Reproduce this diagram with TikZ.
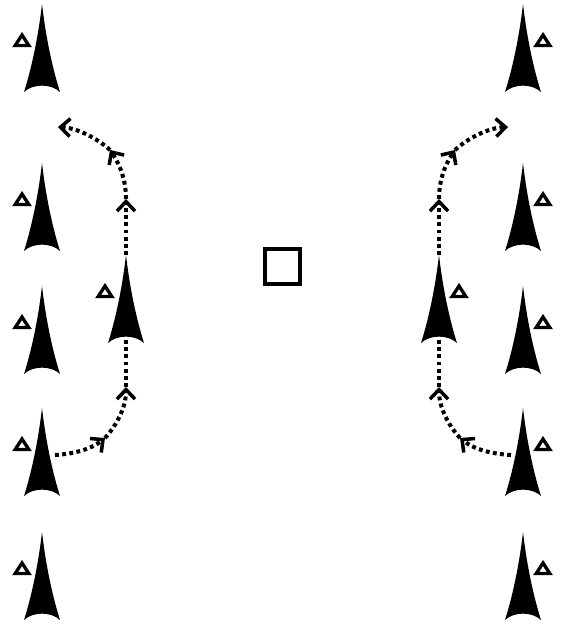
\documentclass[tikz,border=0pt]{standalone}
\usepackage{xcolor}
\usetikzlibrary{arrows.meta,positioning}

\begin{document}
\begin{tikzpicture}[x=0.02cm, y=-0.02cm,
    player/.pic={
      \fill (0,0) .. controls (4,35) and (11,66) .. (18,88)
        .. controls (9,79.5) and (-9,79.5) .. (-18,88)
        .. controls (-11,66) and (-4,35) .. cycle;
      \coordinate (-base) at (0,84);
      \coordinate (-apex) at (0,0);
    },
    tri/.pic={\draw[line width=1.9pt, miter limit=10] (-6.8,5.5) -- (6.8,5.5) -- (0,-5) -- cycle;},
    route/.style={line width=2.3pt, dash pattern=on 2.2pt off 1.9pt},
    chev/.style={-{Straight Barb[length=1.9mm, width=3.6mm, line width=2pt]}},
    cone/.style={draw, line width=2.1pt, minimum size=0.7cm, inner sep=0pt}]
  \useasboundingbox (0,0) rectangle (561,626);
  % left column
  \pic (a) at (42,4) {player};
  \pic (b) at (42,163) {player};
  \pic (c) at (42,286) {player};
  \pic (d) at (42,408) {player};
  \pic (e) at (42,532) {player};
  \pic (m) at (126,255) {player};
  \pic (at) at (22,40) {tri};
  \pic (bt) at (22,199) {tri};
  \pic (ct) at (22,322) {tri};
  \pic (dt) at (22,444) {tri};
  \pic (et) at (22,568) {tri};
  \pic (mt) at (105,291) {tri};
  % right column
  \pic (f) at (523,4) {player};
  \pic (g) at (523,163) {player};
  \pic (h) at (523,286) {player};
  \pic (i) at (523,408) {player};
  \pic (j) at (523,532) {player};
  \pic (n) at (439,255) {player};
  \pic (ft) at (543,40) {tri};
  \pic (gt) at (543,199) {tri};
  \pic (ht) at (543,322) {tri};
  \pic (it) at (543,444) {tri};
  \pic (jt) at (543,568) {tri};
  \pic (nt) at (459,291) {tri};
  % centre
  \node[cone] (box) at (282.5,266.5) {};
  % left run
  \coordinate (l0) at (55,455);
  \coordinate (l1) at (105,438);
  \coordinate (l2) at (126,387);
  \coordinate (l3) at (126,199);
  \coordinate (l4) at (110,150);
  \coordinate (l5) at (58,127);
  \draw[route, chev] (l0) .. controls (72,454) and (90,450) .. (l1);
  \draw[route, chev] (l1) .. controls (116,426) and (126,408) .. (l2);
  \draw[route] (l2) -- (m-base);
  \draw[route, chev] (m-apex) -- (l3);
  \draw[route, chev] (l3) .. controls (126,180) and (120,165) .. (l4);
  \draw[route, chev] (l4) .. controls (98,139) and (78,128) .. (l5);
  % right run
  \coordinate (r0) at (511,455);
  \coordinate (r1) at (460,438);
  \coordinate (r2) at (439,387);
  \coordinate (r3) at (439,199);
  \coordinate (r4) at (455,150);
  \coordinate (r5) at (508,127);
  \draw[route, chev] (r0) .. controls (493,454) and (475,450) .. (r1);
  \draw[route, chev] (r1) .. controls (449,426) and (439,408) .. (r2);
  \draw[route] (r2) -- (n-base);
  \draw[route, chev] (n-apex) -- (r3);
  \draw[route, chev] (r3) .. controls (439,180) and (445,165) .. (r4);
  \draw[route, chev] (r4) .. controls (467,139) and (487,128) .. (r5);
\end{tikzpicture}
\end{document}
